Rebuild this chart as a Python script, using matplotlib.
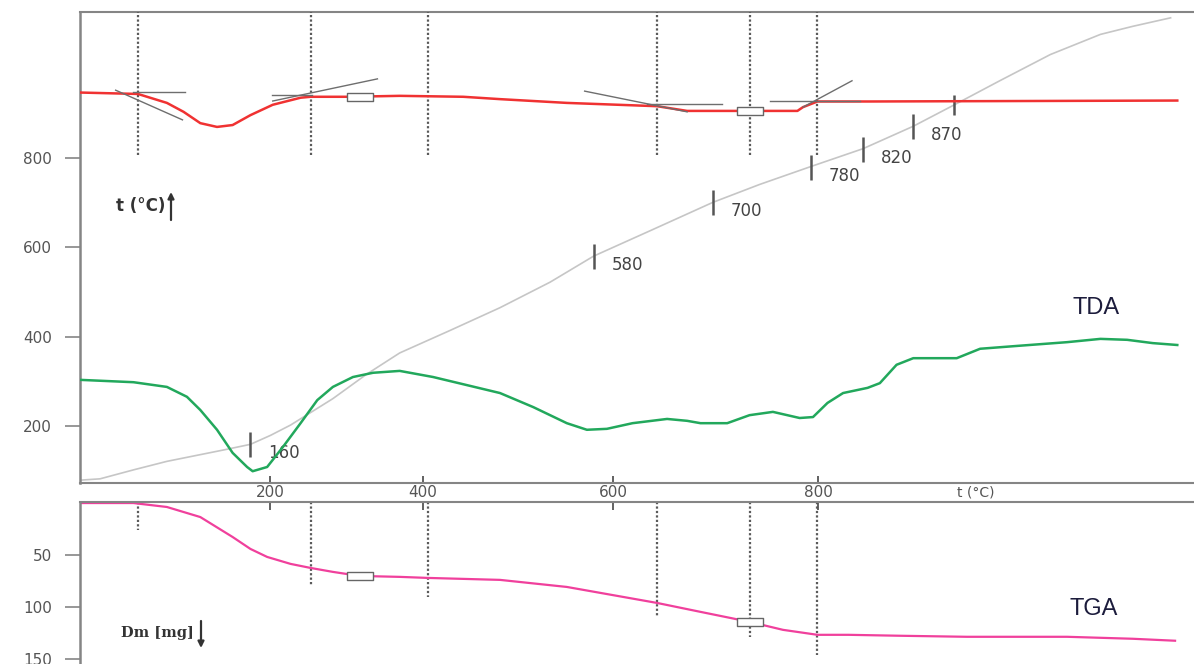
import numpy as np
import matplotlib
matplotlib.use("Agg")
import matplotlib.pyplot as plt
from matplotlib.path import Path

# ---- heating programme: furnace temperature vs. time (min, degC) ----
heat_t = [0.0, 1.8, 4.8, 7.8, 10.8, 13.0, 15.3, 17.1, 18.9, 22.7, 25.7, 28.7, 33.2,
          37.7, 42.2, 46.1, 51.2, 56.8, 61.0, 65.6, 70.3, 74.8, 78.5, 82.6,
          87.1, 91.6, 94.5, 97.9]
heat_T = [80, 83, 103, 122, 137, 148, 160, 180, 203, 262, 316, 364, 414,
          465, 522, 580, 637, 700, 740, 780, 820, 870, 918, 972,
          1030, 1075, 1093, 1112]

# temperatures marked on the heating curve
mark_temps = [160, 580, 700, 780, 820, 870]
extra_mark_t = [78.5]

# temperature scale along the time axis
t_tick_times = [17.06, 30.79, 47.85, 66.25]
t_tick_labels = ["200", "400", "600", "800"]

# ---- DTA signal (arbitrary units) ----
dta_t = [0.0, 4.8, 7.8, 9.6, 10.8, 12.3, 13.7, 15.0, 15.5, 16.8, 18.2, 19.8,
         21.3, 22.7, 24.5, 26.3, 28.7, 31.7, 34.7, 37.7, 40.7, 43.7, 45.5,
         47.3, 49.6, 52.7, 54.5, 55.7, 58.1, 60.1, 62.2, 64.6, 65.8, 67.1,
         68.5, 70.7, 71.8, 73.3, 74.8, 78.7, 80.8, 84.1, 88.6, 91.6, 94.0,
         96.3, 98.5]
dta_v = [21.9, 21.4, 20.4, 18.3, 15.5, 11.3, 6.4, 3.4, 2.5, 3.4, 7.6, 12.7,
         17.6, 20.4, 22.5, 23.4, 23.8, 22.5, 20.8, 19.1, 16.1, 12.7, 11.3,
         11.5, 12.7, 13.6, 13.2, 12.7, 12.7, 14.4, 15.1, 13.8, 14.0, 17.0,
         19.1, 20.2, 21.2, 25.1, 26.5, 26.5, 28.5, 29.1, 29.9, 30.6, 30.4,
         29.7, 29.3]

# ---- DTG signal (arbitrary units) ----
dtg_t = [0.0, 5.2, 7.8, 9.3, 10.8, 12.3, 13.7, 15.3, 17.3, 19.8, 20.7, 24.2,
         28.7, 34.4, 37.7, 43.7, 51.8, 54.5, 58.1, 64.4, 64.9, 66.2, 70.9, 98.5]
dtg_v = [82.9, 82.6, 80.7, 78.8, 76.4, 75.6, 76.0, 78.1, 80.3, 81.8, 82.0, 82.0,
         82.2, 82.0, 81.5, 80.7, 80.0, 79.0, 79.0, 79.0, 79.8, 81.0, 81.0, 81.2]

# ---- TG: mass loss (mg) ----
tg_t = [0.0, 4.8, 7.8, 10.8, 13.7, 15.3, 16.8, 18.9, 20.7, 22.7, 25.1, 28.7,
        31.2, 37.7, 43.7, 51.8, 55.7, 60.1, 63.1, 66.2, 69.0, 73.6, 79.6,
        88.6, 94.5, 98.3]
tg_m = [0.0, 0.0, 3.8, 13.5, 32.7, 44.2, 51.9, 58.6, 62.5, 66.3, 70.2, 71.1,
        72.1, 74.0, 80.8, 96.2, 104.8, 114.4, 122.1, 126.9, 126.9, 127.8, 128.8,
        128.8, 130.7, 132.6]

# characteristic times (onsets / ends of effects)
event_t = [5.2, 20.7, 31.2, 51.8, 60.1, 66.2]
event_tg_end = [26, 79, 90, 110, 129, 146]
event_sig_end = 69.6

# reading points on DTG / TG
box_t = [25.1, 60.1]

# tangent constructions on the DTG curve: (t0, v0, t1, v1)
tangents = [
    (3.2, 83.4, 9.2, 77.1), (4.8, 83.0, 9.4, 83.0),
    (17.2, 82.4, 20.8, 82.4), (17.3, 81.1, 26.7, 85.8),
    (45.3, 83.2, 54.5, 78.8), (50.9, 80.5, 57.6, 80.5),
    (61.9, 81.1, 70.0, 81.1), (64.9, 79.8, 69.3, 85.4),
]

W, H = 1194, 664
fig = plt.figure(figsize=(W / 100, H / 100), dpi=100)
fig.patch.set_facecolor("white")

ax = fig.add_axes([80 / W, 1 - 483 / H, 1 - 80 / W, (483 - 12) / H])
ax_sig = ax.twinx()
ax_tg = fig.add_axes([80 / W, 0, 1 - 80 / W, (664 - 502) / H], sharex=ax)

spine_col = "#858585"
tick_txt = "#555555"

ax.set_xlim(0, 100)
ax.set_ylim(73.7, 1125)
ax_sig.set_ylim(0, 100)
ax_tg.set_ylim(155, -1)

ax.spines["right"].set_visible(False)
for s in ["left", "top", "bottom"]:
    ax.spines[s].set_color(spine_col)
    ax.spines[s].set_linewidth(1.5)
ax.spines["left"].set_linewidth(1.8)
for s in ax_sig.spines.values():
    s.set_visible(False)
ax_sig.set_yticks([])
ax_sig.tick_params(right=False, labelright=False)
for s in ["right", "bottom"]:
    ax_tg.spines[s].set_visible(False)
for s in ["left", "top"]:
    ax_tg.spines[s].set_color(spine_col)
    ax_tg.spines[s].set_linewidth(1.5)
ax_tg.spines["left"].set_linewidth(1.8)

ax.set_yticks([200, 400, 600, 800])
ax.tick_params(axis="y", direction="out", length=11, width=1.2, color=spine_col,
               labelsize=11, labelcolor=tick_txt, pad=9)
ax.set_xticks(t_tick_times, labels=t_tick_labels)
ax.tick_params(axis="x", direction="in", length=5, width=1.3, color="#555555",
               labelsize=11, labelcolor=tick_txt, pad=1.5, top=False)

ax_tg.set_yticks([50, 100, 150])
ax_tg.tick_params(axis="y", direction="out", length=11, width=1.2, color=spine_col,
                  labelsize=11, labelcolor=tick_txt, pad=9)
ax_tg.tick_params(axis="x", direction="in", length=6, width=1.3, color="#555555",
                  bottom=False, labelbottom=False, top=True, labeltop=False)

# heating curve with marked temperatures
ax.plot(heat_t, heat_T, color="#c6c6c6", lw=1.2, zorder=1)
for T in mark_temps:
    tm = np.interp(T, heat_T, heat_t)
    ax.plot(tm, T, marker="|", ms=18, mew=1.8, color="#555555", zorder=3)
    ax.annotate(str(T), (tm, T), xytext=(18, -9), textcoords="offset pixels",
                ha="left", va="center", fontsize=12, color="#444444")
for tm in extra_mark_t:
    ax.plot(tm, np.interp(tm, heat_t, heat_T), marker="|", ms=15, mew=1.8,
            color="#555555", zorder=3)

# DTA and DTG
ax_sig.plot(dta_t, dta_v, color="#22a85c", lw=1.8, zorder=2)
ax_sig.plot(dtg_t, dtg_v, color="#f03232", lw=1.8, zorder=2)
for t0, v0, t1, v1 in tangents:
    ax_sig.plot([t0, t1], [v0, v1], color="#6e6e6e", lw=1.0, zorder=3)
ax_sig.vlines(event_t, event_sig_end, 100, colors="#5a5a5a",
              linestyles=(0, (1, 1)), lw=1.6, zorder=1)

box_path = Path([(-1.7, -0.5), (1.7, -0.5), (1.7, 0.5), (-1.7, 0.5), (-1.7, -0.5)],
                [Path.MOVETO, Path.LINETO, Path.LINETO, Path.LINETO, Path.CLOSEPOLY])
ax_sig.plot(box_t, np.interp(box_t, dtg_t, dtg_v), ls="none", marker=box_path,
            ms=19, mfc="white", mec="#666666", mew=1.0, zorder=4)

# TG
ax_tg.plot(tg_t, tg_m, color="#f0409c", lw=1.6, zorder=2)
ax_tg.vlines(event_t, -1, event_tg_end, colors="#5a5a5a",
             linestyles=(0, (1, 1)), lw=1.6, zorder=1)
ax_tg.plot(box_t, np.interp(box_t, tg_t, tg_m), ls="none", marker=box_path,
           ms=19, mfc="white", mec="#666666", mew=1.0, zorder=4)

# labels
fig.text(1096 / W, 1 - 308 / H, "TDA", ha="center", va="center", fontsize=17,
         family="Liberation Sans", color="#1c1c3c")
fig.text(1094 / W, 1 - 609 / H, "TGA", ha="center", va="center", fontsize=17,
         family="Liberation Sans", color="#1c1c3c")
fig.text(165 / W, 1 - 206 / H, "t (°C)", ha="right", va="center", fontsize=12,
         weight="bold", color="#333333")
ax.annotate("", xy=(171, H - 192), xytext=(171, H - 220), xycoords="figure pixels",
            textcoords="figure pixels",
            arrowprops=dict(arrowstyle="-|>", lw=1.6, color="#333333",
                            mutation_scale=9, shrinkA=0, shrinkB=0))
fig.text(194 / W, 1 - 633 / H, "Dm [mg]", ha="right", va="center", fontsize=10.5,
         family="DejaVu Serif", weight="bold", color="#333333")
ax_tg.annotate("", xy=(201, H - 648), xytext=(201, H - 621), xycoords="figure pixels",
               textcoords="figure pixels",
               arrowprops=dict(arrowstyle="-|>", lw=1.6, color="#333333",
                               mutation_scale=9, shrinkA=0, shrinkB=0))
fig.text(976 / W, 1 - 493 / H, "t (°C)", ha="center", va="center", fontsize=10,
         color="#555555")

fig.savefig("out.png", dpi=100, facecolor="white")
